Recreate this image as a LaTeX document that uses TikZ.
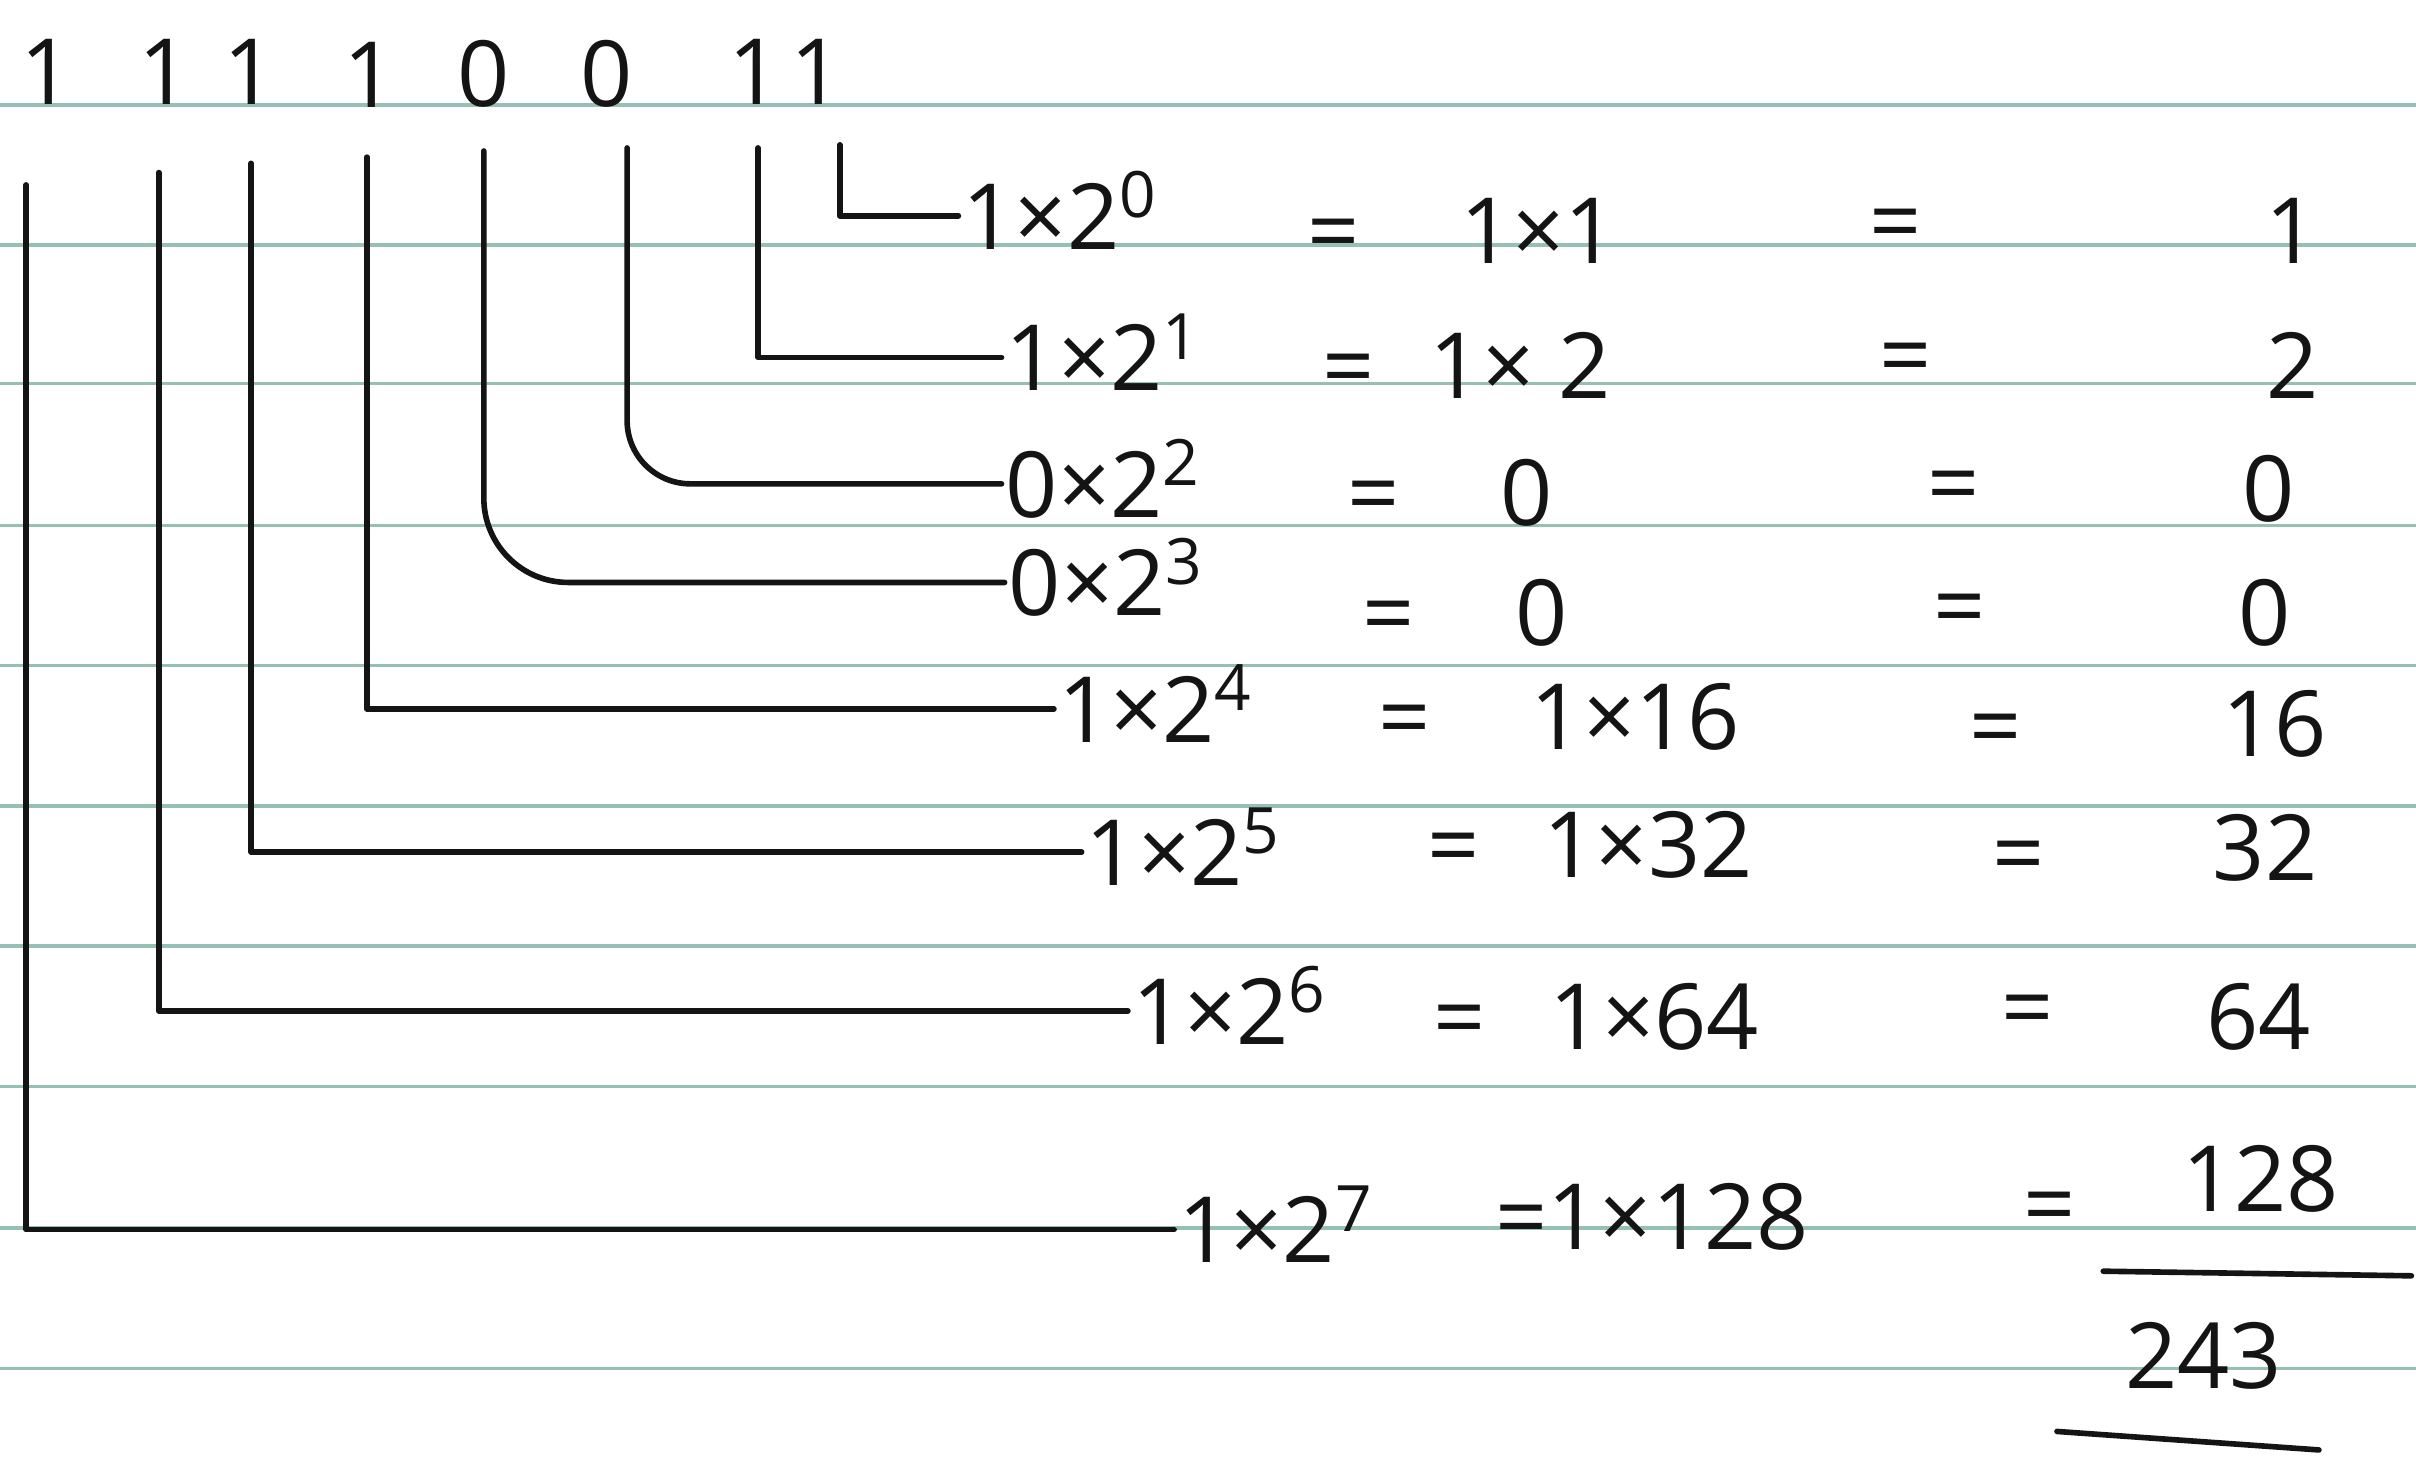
\documentclass[tikz,border=0pt]{standalone}
\usepackage{fontspec}
\setmainfont{Open Sans}
\usepackage{xcolor}
\usetikzlibrary{positioning}

\definecolor{ink}{RGB}{20,20,20}
\definecolor{ruling}{RGB}{150,192,182}

\begin{document}
\begin{tikzpicture}[
        x=0.1541mm, y=-0.1541mm,
        hand/.style={font=\fontsize{26}{30}\selectfont, text=ink},
        bit/.style={hand, anchor=south, inner sep=0pt},
        term/.style={hand, anchor=west, inner sep=1pt, text height=19pt, text depth=0pt},
        eq/.style={hand, anchor=west, inner sep=0pt},
        val/.style={hand, inner sep=0pt},
        link/.style={draw=ink, line width=1.6pt, line cap=round, line join=round},
        paperline/.style={draw=ruling, line width=1pt}
    ]
        % paper
        \fill[white] (0,0) rectangle (1568,953);
        \useasboundingbox (0,0) rectangle (1568,953);
        \foreach \y in {68,159,249,341,432,523,614,705,797,888}
            \draw[paperline] (0,\y) -- (1568,\y);

        % binary number
        \node[bit] (b7) at (30,68) {1};
        \node[bit] (b6) at (107,68) {1};
        \node[bit] (b5) at (162,68) {1};
        \node[bit] (b4) at (240,70) {1};
        \node[bit] (b3) at (314,70) {0};
        \node[bit] (b2) at (394,70) {0};
        \node[bit] (b1) at (490,68) {1};
        \node[bit] (b0) at (530,68) {1};

        % place values
        \node[term] (t0) at (622,140) {1×2\textsuperscript{0}};
        \node[term] (t1) at (650,232) {1×2\textsuperscript{1}};
        \node[term] (t2) at (650,314) {0×2\textsuperscript{2}};
        \node[term] (t3) at (652,378) {0×2\textsuperscript{3}};
        \node[term] (t4) at (684,460) {1×2\textsuperscript{4}};
        \node[term] (t5) at (702,553) {1×2\textsuperscript{5}};
        \node[term] (t6) at (732,656) {1×2\textsuperscript{6}};
        \node[term] (t7) at (762,798) {1×2\textsuperscript{7}};

        \coordinate (s0) at (545,94);
        \coordinate (s1) at (492,96);
        \coordinate (s2) at (407,96);
        \coordinate (s3) at (314,98);
        \coordinate (s4) at (238,102);
        \coordinate (s5) at (163,106);
        \coordinate (s6) at (103,112);
        \coordinate (s7) at (17,120);

        \draw[link] (s0) |- (t0.west);
        \draw[link] (s1) |- (t1.west);
        \draw[link, rounded corners=18pt] (s2) |- (t2.west);
        \draw[link, rounded corners=24pt] (s3) |- (t3.west);
        \draw[link] (s4) |- (t4.west);
        \draw[link] (s5) |- (t5.west);
        \draw[link] (s6) |- (t6.west);
        \draw[link] (s7) |- (t7.west);

        % products
        \node[eq] (e0) at (848,150) {=\hspace{1.1em}1×1};
        \node[eq] (e1) at (858,237) {=\hspace{0.6em}1× 2};
        \node[eq] (e2) at (874,320) {=\hspace{1.1em}0};
        \node[eq] (e3) at (884,398) {=\hspace{1.1em}0};
        \node[eq] (e4) at (894,465) {=\hspace{1.1em}1×16};
        \node[eq] (e5) at (926,548) {=\hspace{0.7em}1×32};
        \node[eq] (e6) at (930,660) {=\hspace{0.7em}1×64};
        \node[eq] (e7) at (970,790) {=1×128};

        % results
        \node[val] (q0) at (1230,150) {=};
        \node[val] (q1) at (1237,237) {=};
        \node[val] (q2) at (1268,320) {=};
        \node[val] (q3) at (1272,400) {=};
        \node[val] (q4) at (1295,478) {=};
        \node[val] (q5) at (1310,560) {=};
        \node[val] (q6) at (1316,660) {=};
        \node[val] (q7) at (1330,788) {=};

        \node[val] (v0) at (1487,150) {1};
        \node[val] (v1) at (1488,237) {2};
        \node[val] (v2) at (1472,317) {0};
        \node[val] (v3) at (1470,398) {0};
        \node[val] (v4) at (1476,470) {16};
        \node[val] (v5) at (1470,550) {32};
        \node[val] (v6) at (1466,660) {64};
        \node[val] (v7) at (1467,765) {128};

        % total
        \draw[link] (1365,825) -- (1565,828);
        \node[val] (total) at (1430,880) {243};
        \draw[link] (1335,929) -- (1505,941);
    \end{tikzpicture}
\end{document}
